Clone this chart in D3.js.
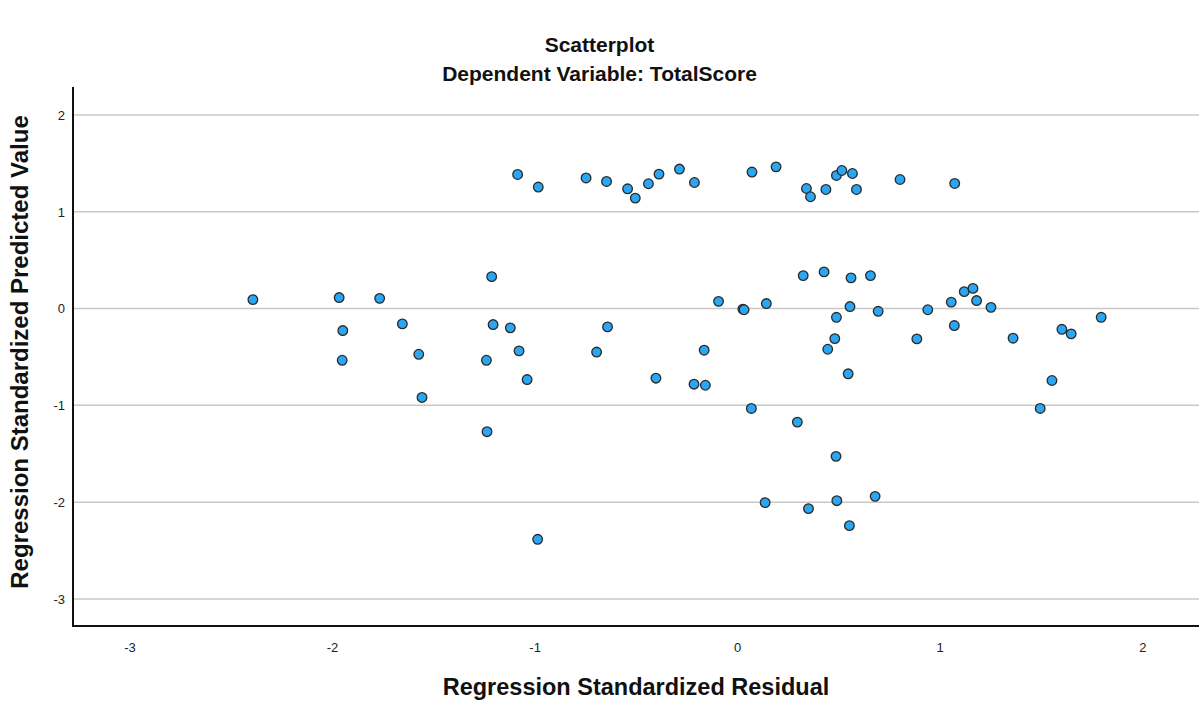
<!DOCTYPE html>
<html>
<head>
<meta charset="utf-8">
<script src="https://cdn.jsdelivr.net/npm/d3@7"></script>
<style>
  html, body { margin: 0; padding: 0; background: #fff; }
  svg { display: block; font-family: "Liberation Sans", Arial, sans-serif; }
</style>
</head>
<body>
<svg id="chart" width="1199" height="709"></svg>
<script>
// Regression Standardized Residual (x) for each case
const residual = [
  -1.084, -0.982, -0.746, -0.645, -0.541, -0.503, -0.438, -0.386, -0.285, -0.211,
   0.073,  0.192,  0.342,  0.362,  0.438,  0.490,  0.517,  0.569,  0.589,  0.804,
   1.074,
  -2.391, -1.965, -1.765, -1.212, -1.947, -1.653, -1.205, -1.120, -1.950, -1.572,
  -1.238, -1.077, -1.037, -1.556, -1.235, -0.985, -0.694, -0.640, -0.401, -0.213,
  -0.157, -0.163, -0.092,  0.028,  0.034,  0.144,  0.070,  0.297,  0.326,  0.429,
   0.562,  0.658,  0.557,  0.490,  0.482,  0.447,  0.696,  0.548,  0.941,  0.887,
   1.057,  1.072,  1.121,  1.164,  1.182,  1.253,  1.362,  1.603,  1.649,  1.797,
   1.554,  1.496,  0.488,  0.138,  0.352,  0.492,  0.681,  0.554
];

// Regression Standardized Predicted Value (y) for each case
const predicted = [
   1.386,  1.256,  1.350,  1.314,  1.238,  1.142,  1.290,  1.390,  1.442,  1.303,
   1.411,  1.465,  1.241,  1.156,  1.231,  1.376,  1.427,  1.396,  1.231,  1.334,
   1.293,
   0.093,  0.114,  0.106,  0.330, -0.227, -0.158, -0.165, -0.199, -0.534, -0.472,
  -0.534, -0.437, -0.733, -0.918, -1.272, -2.384, -0.449, -0.189, -0.719, -0.781,
  -0.792, -0.430,  0.075, -0.005, -0.012,  0.052, -1.032, -1.173,  0.341,  0.379,
   0.317,  0.341,  0.021, -0.090, -0.310, -0.420, -0.028, -0.674, -0.012, -0.313,
   0.067, -0.175,  0.175,  0.209,  0.083,  0.013, -0.306, -0.214, -0.261, -0.090,
  -0.743, -1.032, -1.527, -2.005, -2.067, -1.985, -1.940, -2.243
];

const xTicks = [-3, -2, -1, 0, 1, 2];
const yTicks = [2, 1, 0, -1, -2, -3];

const titleText = "Scatterplot";
const subtitleText = "Dependent Variable: TotalScore";
const xLabel = "Regression Standardized Residual";
const yLabel = "Regression Standardized Predicted Value";

const W = 1199, H = 709;
const plot = { left: 73, right: 1199, top: 87, bottom: 626 };
const FONT = "'Liberation Sans', Arial, sans-serif";

const svg = d3.select("#chart");

const x = d3.scaleLinear().domain([-3.279, 2.28]).range([plot.left, plot.right]);
const y = d3.scaleLinear().domain([-3.28, 2.29]).range([plot.bottom, plot.top]);

// Horizontal reference lines at each y tick
svg.append("g")
  .selectAll("line")
  .data(yTicks)
  .join("line")
  .attr("x1", plot.left)
  .attr("x2", plot.right)
  .attr("y1", d => y(d))
  .attr("y2", d => y(d))
  .attr("stroke", "#c8c8c8")
  .attr("stroke-width", 1.5);

// Axes (labels only, no tick marks); plain hyphen for negatives
const tickFmt = d => String(d);
const xAxis = d3.axisBottom(x).tickValues(xTicks).tickSize(0).tickPadding(17).tickFormat(tickFmt);
const yAxis = d3.axisLeft(y).tickValues(yTicks).tickSize(0).tickPadding(8).tickFormat(tickFmt);

const gx = svg.append("g")
  .attr("transform", `translate(0,${plot.bottom})`)
  .call(xAxis);
gx.select(".domain").remove();
gx.selectAll("text")
  .attr("font-family", FONT)
  .attr("font-size", 13)
  .attr("fill", "#222");

const gy = svg.append("g")
  .attr("transform", `translate(${plot.left},0)`)
  .call(yAxis);
gy.select(".domain").remove();
gy.selectAll("text")
  .attr("font-family", FONT)
  .attr("font-size", 13)
  .attr("fill", "#222");

// Axis lines
svg.append("line")
  .attr("x1", plot.left).attr("x2", plot.left)
  .attr("y1", plot.top).attr("y2", plot.bottom + 1)
  .attr("stroke", "#111").attr("stroke-width", 2);
svg.append("line")
  .attr("x1", plot.left - 1).attr("x2", plot.right)
  .attr("y1", plot.bottom).attr("y2", plot.bottom)
  .attr("stroke", "#111").attr("stroke-width", 2);

// Points
const points = residual.map((r, i) => ({ r, p: predicted[i] }));
svg.append("g")
  .selectAll("circle")
  .data(points)
  .join("circle")
  .attr("cx", d => x(d.r))
  .attr("cy", d => y(d.p))
  .attr("r", 4.8)
  .attr("fill", "#2ba6f2")
  .attr("stroke", "#2a2a2a")
  .attr("stroke-width", 1.3);

// Titles
svg.append("text")
  .attr("x", W / 2).attr("y", 52)
  .attr("text-anchor", "middle")
  .attr("font-family", FONT)
  .attr("font-size", 21).attr("font-weight", "bold")
  .attr("fill", "#111")
  .text(titleText);

svg.append("text")
  .attr("x", W / 2).attr("y", 81)
  .attr("text-anchor", "middle")
  .attr("font-family", FONT)
  .attr("font-size", 21).attr("font-weight", "bold")
  .attr("fill", "#111")
  .text(subtitleText);

svg.append("text")
  .attr("x", (plot.left + plot.right) / 2).attr("y", 695)
  .attr("text-anchor", "middle")
  .attr("font-family", FONT)
  .attr("font-size", 23.5).attr("font-weight", "bold")
  .attr("fill", "#111")
  .text(xLabel);

svg.append("text")
  .attr("transform", `translate(28,352) rotate(-90)`)
  .attr("text-anchor", "middle")
  .attr("font-family", FONT)
  .attr("font-size", 24).attr("font-weight", "bold")
  .attr("fill", "#111")
  .text(yLabel);
</script>
</body>
</html>
